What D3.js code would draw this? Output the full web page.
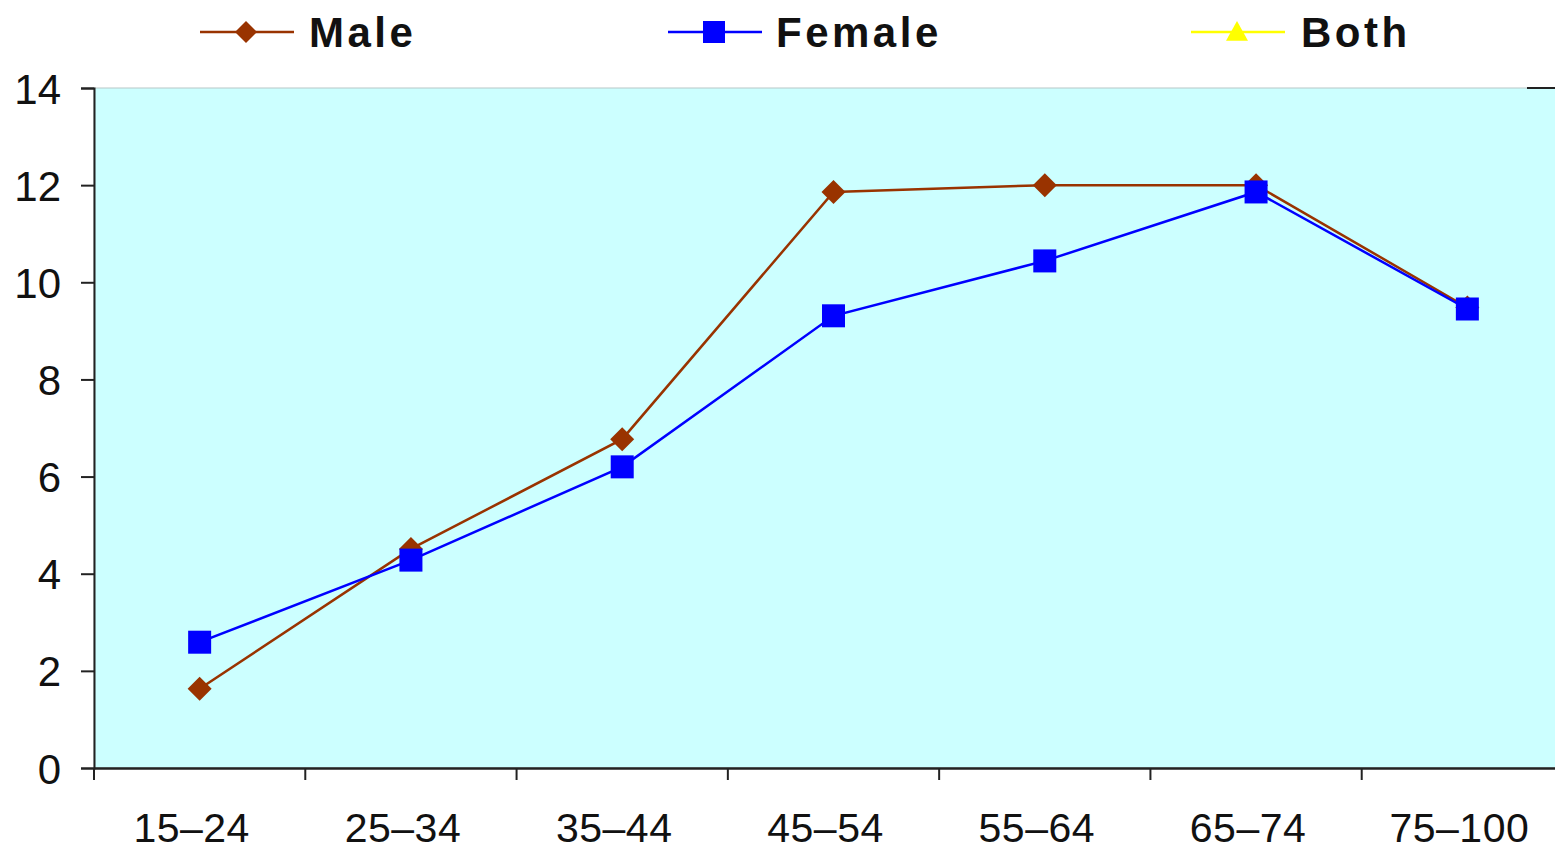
<!DOCTYPE html>
<html><head><meta charset="utf-8">
<script src="https://cdn.jsdelivr.net/npm/d3@7"></script>
<style>body{margin:0;background:#fff}svg{display:block}</style>
</head><body>
<svg id="c" width="1555" height="852"></svg>
<script>
const categories = ["15–24","25–34","35–44","45–54","55–64","65–74","75–100"];
const maleValues = [1.63, 4.51, 6.77, 11.86, 12.0, 12.0, 9.48];
const femaleValues = [2.59, 4.28, 6.2, 9.31, 10.44, 11.86, 9.45];
const bothValues = [];
const yTicks = [0, 2, 4, 6, 8, 10, 12, 14];
const seriesNames = ["Male", "Female", "Both"];

const svg = d3.select("#c");
const L = 94, R = 1573, T = 88, B = 768;
const x = d3.scaleBand().domain(categories).range([L, R]).padding(0);
const y = d3.scaleLinear().domain([0, 14]).range([B, T]);

svg.append("rect").attr("x", L).attr("y", T).attr("width", R - L).attr("height", B - T)
  .attr("fill", "#CCFFFF").attr("stroke", "#b8c8c8").attr("stroke-width", 1);

// y axis
const yAx = svg.append("g").attr("transform", `translate(${L},0)`)
  .call(d3.axisLeft(y).tickValues(yTicks).tickSize(13).tickPadding(20).tickFormat(d3.format("d")));
yAx.select(".domain").attr("stroke", "#222").attr("stroke-width", 2);
yAx.selectAll(".tick line").attr("stroke", "#222").attr("stroke-width", 2);
yAx.selectAll("text").attr("font-family", "Liberation Sans, Arial, sans-serif").attr("font-size", 42).attr("fill", "#111").attr("dy", "0.36em");

// right top stub
svg.append("line").attr("x1", 1527).attr("x2", 1555).attr("y1", y(14)).attr("y2", y(14)).attr("stroke", "#222").attr("stroke-width", 2);

// x axis
const xAx = svg.append("g").attr("transform", `translate(0,${B})`)
  .call(d3.axisBottom(x).tickSize(0).tickPadding(45));
xAx.select(".domain").attr("stroke", "#222").attr("stroke-width", 2.5);
xAx.selectAll("text").attr("font-family", "Liberation Sans, Arial, sans-serif").attr("font-size", 41).attr("fill", "#111").attr("dx", "-8").attr("letter-spacing", 0.5);
// boundary ticks
const bounds = categories.map(c => x(c));
svg.append("g").selectAll("line").data(bounds).join("line")
  .attr("x1", d => d).attr("x2", d => d).attr("y1", B).attr("y2", B + 12)
  .attr("stroke", "#222").attr("stroke-width", 2);

const line = d3.line().x((d, i) => x(categories[i]) + x.bandwidth() / 2).y(d => y(d));
const male = "#993300", female = "#0000FF", both = "#FFFF00";

function diamond(g, cx, cy, s, col) {
  g.append("path").attr("d", `M${cx},${cy - s}L${cx + s},${cy}L${cx},${cy + s}L${cx - s},${cy}Z`).attr("fill", col);
}
function square(g, cx, cy, s, col) {
  g.append("rect").attr("x", cx - s).attr("y", cy - s).attr("width", 2 * s).attr("height", 2 * s).attr("fill", col);
}
function tri(g, cx, cy, s, col) {
  g.append("path").attr("d", `M${cx},${cy - s}L${cx + s},${cy + s * 0.8}L${cx - s},${cy + s * 0.8}Z`).attr("fill", col);
}

const gM = svg.append("g");
gM.append("path").attr("d", line(maleValues)).attr("fill", "none").attr("stroke", male).attr("stroke-width", 2.5);
maleValues.forEach((v, i) => diamond(gM, x(categories[i]) + x.bandwidth() / 2, y(v), 12, male));

const gF = svg.append("g");
gF.append("path").attr("d", line(femaleValues)).attr("fill", "none").attr("stroke", female).attr("stroke-width", 2.5);
femaleValues.forEach((v, i) => square(gF, x(categories[i]) + x.bandwidth() / 2, y(v), 11.5, female));

const gB = svg.append("g");
if (bothValues.length) {
  gB.append("path").attr("d", line(bothValues)).attr("fill", "none").attr("stroke", both).attr("stroke-width", 2.5);
}

// legend
const legend = [
  {name: seriesNames[0], col: male, x0: 200, mk: diamond, tx: 309},
  {name: seriesNames[1], col: female, x0: 668, mk: square, tx: 776},
  {name: seriesNames[2], col: both, x0: 1191, mk: tri, tx: 1301}
];
const lg = svg.append("g");
legend.forEach(d => {
  lg.append("line").attr("x1", d.x0).attr("x2", d.x0 + 94).attr("y1", 32).attr("y2", 32).attr("stroke", d.col).attr("stroke-width", 2.5);
  d.mk(lg, d.x0 + 46, 32, 11, d.col);
  lg.append("text").attr("x", d.tx).attr("y", 47).text(d.name)
    .attr("font-family", "Liberation Sans, Arial, sans-serif").attr("font-weight", "bold")
    .attr("font-size", 42).attr("letter-spacing", 3.5).attr("fill", "#111");
});
</script>
</body></html>
